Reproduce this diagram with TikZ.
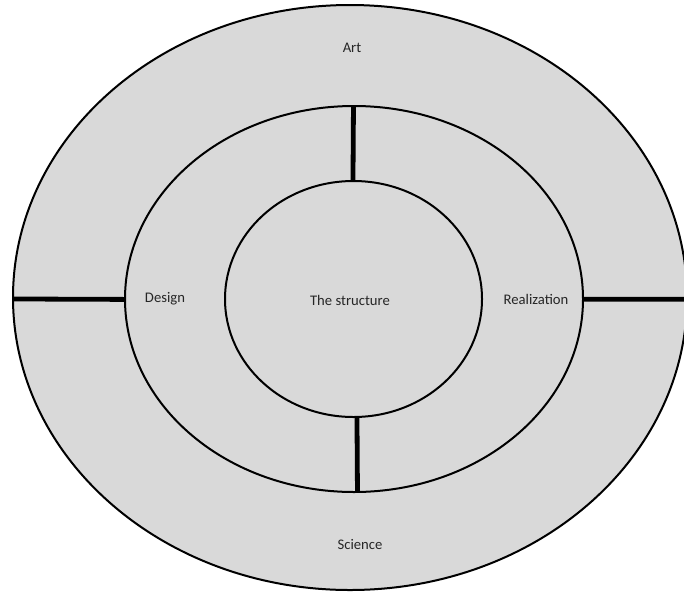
\documentclass[tikz,border=0pt]{standalone}
\usepackage{fontspec}
\setmainfont{Carlito}
\usetikzlibrary{shapes.geometric}
\definecolor{ringfill}{HTML}{D9D9D9}
\begin{document}
\begin{tikzpicture}[x=0.75pt,y=-0.75pt,
  ring/.style={ellipse,draw=black,line width=1.5pt,fill=ringfill,inner sep=0pt,outer sep=0pt},
  bar/.style={line width=3.6pt,black},
  lbl/.style={font=\fontsize{11pt}{13pt}\selectfont,inner sep=1pt,text=black!85}]
\useasboundingbox (0,0) rectangle (684,593);
\begin{scope}
\clip (0,0) rectangle (684,593);
\node[ring,minimum width=505.5pt,minimum height=438.75pt] (outer) at (350,297.5) {};
\node[ring,minimum width=343.5pt,minimum height=289.5pt] (middle) at (354,299) {};
\node[ring,minimum width=192.75pt,minimum height=177pt] (inner) at (353.5,299) {};
\coordinate (rightedge) at (690,299.3);
\draw[bar] ([yshift=-1.1pt]outer.west) -- ([yshift=-0.3pt]middle.west);
\draw[bar] ([yshift=-0.2pt]middle.east) -- (rightedge);
\draw[bar] ([xshift=-0.4pt]middle.north) -- ([xshift=-0.4pt]inner.north);
\draw[bar] ([xshift=2.6pt]inner.south) -- ([xshift=2.6pt]middle.south);
\end{scope}
\node[lbl] (art) at (352,48) {Art};
\node[lbl] (science) at (360,544) {Science};
\node[lbl] (design) at (165,299) {Design};
\node[lbl] (realization) at (536,299) {Realization};
\node[lbl] (structure) at (350,300) {The structure};
\end{tikzpicture}
\end{document}
